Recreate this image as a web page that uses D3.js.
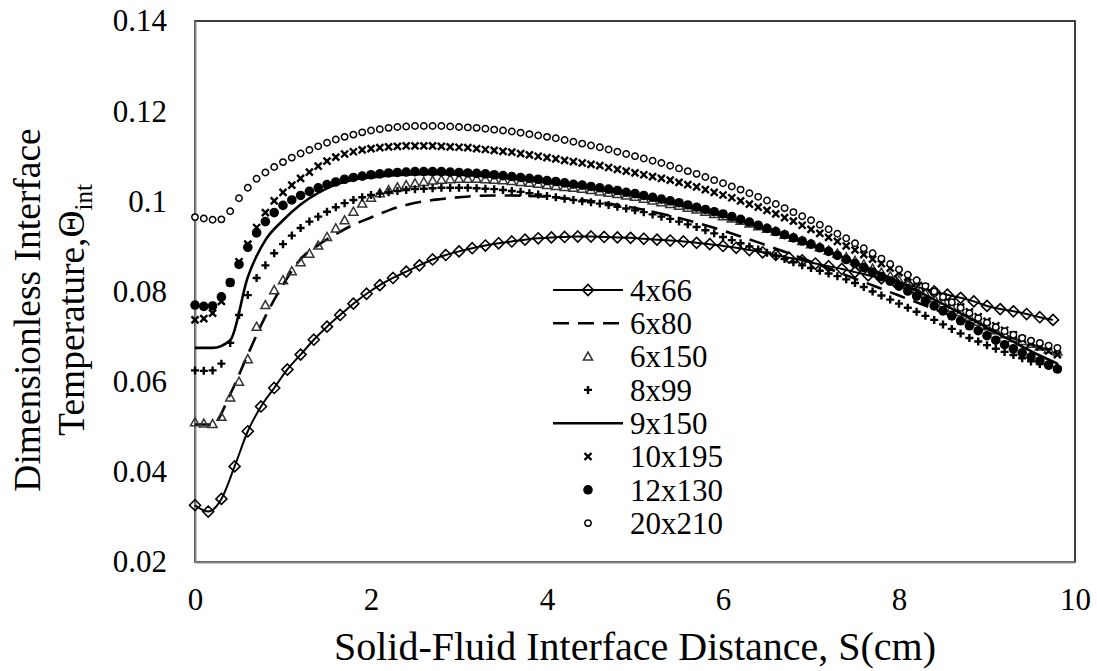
<!DOCTYPE html>
<html>
<head>
<meta charset="utf-8">
<script src="https://cdn.jsdelivr.net/npm/d3@7"></script>
<style>
  body { margin: 0; background: #fff; }
  svg { display: block; }
  svg text { font-family: "Times New Roman", "Liberation Serif", serif; }
</style>
</head>
<body>
<svg id="graph" width="1097" height="671"></svg>
<script>
// x grid (cm) for the dense marker series
const sFine = [
  0,0.1,0.2,0.3,0.4,0.5,0.6,0.7,0.8,0.9,
  1,1.1,1.2,1.3,1.4,1.5,1.6,1.7,1.8,1.9,
  2,2.1,2.2,2.3,2.4,2.5,2.6,2.7,2.8,2.9,
  3,3.1,3.2,3.3,3.4,3.5,3.6,3.7,3.8,3.9,
  4,4.1,4.2,4.3,4.4,4.5,4.6,4.7,4.8,4.9,
  5,5.1,5.2,5.3,5.4,5.5,5.6,5.7,5.8,5.9,
  6,6.1,6.2,6.3,6.4,6.5,6.6,6.7,6.8,6.9,
  7,7.1,7.2,7.3,7.4,7.5,7.6,7.7,7.8,7.9,
  8,8.1,8.2,8.3,8.4,8.5,8.6,8.7,8.8,8.9,
  9,9.1,9.2,9.3,9.4,9.5,9.6,9.7,9.8
];
// x grid for the two line-only series
const sCoarse = [
  0,0.2,0.4,0.6,0.8,1,1.2,1.4,1.6,1.8,
  2,2.2,2.4,2.6,2.8,3,3.2,3.4,3.6,3.8,
  4,4.2,4.4,4.6,4.8,5,5.2,5.4,5.6,5.8,
  6,6.2,6.4,6.6,6.8,7,7.2,7.4,7.6,7.8,
  8,8.2,8.4,8.6,8.8,9,9.2,9.4,9.6,9.8
];
// x grid for the 4x66 mesh
const s4x66 = [
  0,0.15,0.3,0.45,0.6,0.75,0.9,1.05,1.2,1.35,
  1.5,1.65,1.8,1.95,2.1,2.25,2.4,2.55,2.7,2.85,
  3,3.15,3.3,3.45,3.6,3.75,3.9,4.05,4.2,4.35,
  4.5,4.65,4.8,4.95,5.1,5.25,5.4,5.55,5.7,5.85,
  6,6.15,6.3,6.45,6.6,6.75,6.9,7.05,7.2,7.35,
  7.5,7.65,7.8,7.95,8.1,8.25,8.4,8.55,8.7,8.85,
  9,9.15,9.3,9.45,9.6,9.75
];

const v4x66 = [
  0.0326,0.0312,0.0340,0.0412,0.0490,0.0545,0.0586,0.0627,0.0660,0.0693,
  0.0722,0.0748,0.0773,0.0795,0.0814,0.0830,0.0844,0.0858,0.0871,0.0881,
  0.0889,0.0896,0.0902,0.0907,0.0911,0.0915,0.0918,0.0920,0.0921,0.0922,
  0.0922,0.0921,0.0920,0.0919,0.0917,0.0915,0.0913,0.0911,0.0908,0.0905,
  0.0901,0.0897,0.0892,0.0887,0.0881,0.0875,0.0869,0.0862,0.0856,0.0850,
  0.0843,0.0836,0.0829,0.0822,0.0815,0.0808,0.0800,0.0793,0.0786,0.0778,
  0.0768,0.0761,0.0756,0.0750,0.0743,0.0737
];
const v6x80 = [
  0.0505,0.0505,0.0572,0.0660,0.0745,0.0815,0.0872,0.0903,0.0927,0.0948,
  0.0964,0.0980,0.0992,0.1000,0.1005,0.1009,0.1012,0.1013,0.1013,0.1012,
  0.1010,0.1007,0.1003,0.0998,0.0992,0.0985,0.0977,0.0968,0.0958,0.0947,
  0.0935,0.0922,0.0909,0.0895,0.0881,0.0866,0.0851,0.0836,0.0821,0.0806,
  0.0791,0.0776,0.0761,0.0746,0.0731,0.0717,0.0703,0.0689,0.0676,0.0664
];
const v6x150 = [
  0.0510,0.0507,0.0506,0.0522,0.0565,0.0600,0.0650,0.0722,0.0770,0.0803,
  0.0825,0.0845,0.0865,0.0884,0.0902,0.0921,0.0940,0.0958,0.0977,0.0995,
  0.1008,0.1018,0.1025,0.1031,0.1036,0.1040,0.1043,0.1046,0.1048,0.1049,
  0.1050,0.1050,0.1050,0.1049,0.1048,0.1047,0.1045,0.1043,0.1041,0.1039,
  0.1036,0.1034,0.1032,0.1030,0.1028,0.1025,0.1022,0.1019,0.1016,0.1013,
  0.1010,0.1006,0.1002,0.0998,0.0994,0.0990,0.0986,0.0982,0.0977,0.0972,
  0.0967,0.0962,0.0957,0.0951,0.0945,0.0939,0.0933,0.0926,0.0919,0.0912,
  0.0905,0.0898,0.0891,0.0884,0.0876,0.0868,0.0860,0.0851,0.0842,0.0834,
  0.0825,0.0815,0.0805,0.0795,0.0785,0.0774,0.0764,0.0754,0.0744,0.0733,
  0.0723,0.0714,0.0705,0.0697,0.0690,0.0684,0.0678,0.0672,0.0667
];
const v8x99 = [
  0.0625,0.0624,0.0625,0.0640,0.0686,0.0748,0.0792,0.0830,0.0858,0.0885,
  0.0905,0.0924,0.0941,0.0955,0.0966,0.0977,0.0987,0.0996,0.1003,0.1009,
  0.1014,0.1017,0.1020,0.1023,0.1025,0.1027,0.1028,0.1029,0.1030,0.1030,
  0.1030,0.1030,0.1029,0.1028,0.1027,0.1025,0.1023,0.1021,0.1018,0.1015,
  0.1012,0.1009,0.1006,0.1003,0.1000,0.0998,0.0995,0.0992,0.0988,0.0984,
  0.0980,0.0976,0.0971,0.0966,0.0961,0.0955,0.0949,0.0943,0.0936,0.0929,
  0.0921,0.0914,0.0907,0.0900,0.0893,0.0886,0.0879,0.0872,0.0865,0.0858,
  0.0852,0.0846,0.0840,0.0834,0.0827,0.0819,0.0810,0.0800,0.0791,0.0782,
  0.0773,0.0764,0.0755,0.0746,0.0737,0.0727,0.0717,0.0707,0.0697,0.0689,
  0.0681,0.0673,0.0666,0.0659,0.0652,0.0645,0.0639,0.0635,0.0632
];
const v9x150 = [
  0.0675,0.0675,0.0692,0.0832,0.0914,0.0958,0.0993,0.1019,0.1037,0.1048,
  0.1053,0.1057,0.1059,0.1060,0.1060,0.1059,0.1057,0.1054,0.1050,0.1046,
  0.1041,0.1036,0.1031,0.1025,0.1019,0.1012,0.1004,0.0996,0.0987,0.0978,
  0.0968,0.0957,0.0945,0.0932,0.0918,0.0904,0.0889,0.0873,0.0856,0.0839,
  0.0821,0.0802,0.0782,0.0762,0.0741,0.0720,0.0699,0.0678,0.0658,0.0640
];
const v10x195 = [
  0.0737,0.0740,0.0752,0.0778,0.0820,0.0866,0.0905,0.0942,0.0975,0.1001,
  0.1020,0.1036,0.1051,0.1065,0.1078,0.1089,0.1098,0.1105,0.1110,0.1114,
  0.1117,0.1119,0.1121,0.1122,0.1123,0.1123,0.1123,0.1123,0.1122,0.1121,
  0.1120,0.1119,0.1117,0.1115,0.1113,0.1111,0.1109,0.1106,0.1103,0.1100,
  0.1097,0.1094,0.1091,0.1088,0.1085,0.1082,0.1079,0.1075,0.1071,0.1067,
  0.1063,0.1059,0.1055,0.1051,0.1047,0.1042,0.1037,0.1032,0.1026,0.1020,
  0.1014,0.1008,0.1001,0.0994,0.0987,0.0980,0.0972,0.0964,0.0956,0.0947,
  0.0938,0.0929,0.0920,0.0911,0.0901,0.0892,0.0882,0.0872,0.0862,0.0852,
  0.0842,0.0832,0.0821,0.0810,0.0799,0.0788,0.0777,0.0766,0.0755,0.0744,
  0.0734,0.0724,0.0714,0.0704,0.0695,0.0686,0.0677,0.0668,0.0660
];
const v12x130 = [
  0.0770,0.0767,0.0768,0.0788,0.0820,0.0860,0.0898,0.0930,0.0955,0.0975,
  0.0991,0.1003,0.1013,0.1022,0.1030,0.1037,0.1043,0.1049,0.1053,0.1056,
  0.1059,0.1061,0.1063,0.1064,0.1065,0.1066,0.1066,0.1066,0.1066,0.1065,
  0.1064,0.1063,0.1062,0.1061,0.1059,0.1057,0.1055,0.1053,0.1051,0.1049,
  0.1046,0.1044,0.1041,0.1038,0.1036,0.1033,0.1030,0.1027,0.1024,0.1020,
  0.1017,0.1013,0.1009,0.1005,0.1001,0.0997,0.0992,0.0987,0.0982,0.0977,
  0.0972,0.0966,0.0960,0.0954,0.0947,0.0940,0.0933,0.0926,0.0919,0.0912,
  0.0905,0.0897,0.0889,0.0880,0.0871,0.0862,0.0853,0.0843,0.0833,0.0823,
  0.0812,0.0801,0.0790,0.0779,0.0768,0.0757,0.0746,0.0735,0.0724,0.0713,
  0.0702,0.0692,0.0682,0.0673,0.0664,0.0655,0.0646,0.0637,0.0628
];
const v20x210 = [
  0.0965,0.0962,0.0959,0.0960,0.0978,0.1007,0.1030,0.1050,0.1064,0.1076,
  0.1087,0.1097,0.1106,0.1114,0.1122,0.1130,0.1137,0.1143,0.1148,0.1153,
  0.1157,0.1160,0.1163,0.1165,0.1166,0.1167,0.1167,0.1167,0.1167,0.1166,
  0.1165,0.1164,0.1163,0.1161,0.1159,0.1157,0.1155,0.1152,0.1149,0.1146,
  0.1143,0.1140,0.1136,0.1132,0.1128,0.1124,0.1120,0.1115,0.1110,0.1105,
  0.1100,0.1095,0.1090,0.1085,0.1079,0.1073,0.1067,0.1061,0.1054,0.1047,
  0.1040,0.1033,0.1026,0.1018,0.1010,0.1002,0.0994,0.0985,0.0976,0.0967,
  0.0958,0.0948,0.0938,0.0928,0.0918,0.0907,0.0896,0.0885,0.0873,0.0861,
  0.0849,0.0837,0.0825,0.0812,0.0800,0.0788,0.0776,0.0764,0.0752,0.0741,
  0.0731,0.0721,0.0712,0.0704,0.0697,0.0691,0.0686,0.0680,0.0675
];

const seriesNames = ["4x66", "6x80", "6x150", "8x99", "9x150", "10x195", "12x130", "20x210"];
const xTicks = [0, 2, 4, 6, 8, 10];
const xTickLabels = ["0", "2", "4", "6", "8", "10"];
const yTicks = [0.02, 0.04, 0.06, 0.08, 0.1, 0.12, 0.14];
const yTickLabels = ["0.02", "0.04", "0.06", "0.08", "0.1", "0.12", "0.14"];

const serif = "'Times New Roman', 'Liberation Serif', serif";

// marker shapes, drawn round (0,0)
const shapes = {
    diamond: "M0,-5.5L5.5,0L0,5.5L-5.5,0Z",
    triangle: "M0,-4.5L4.5,3.5L-4.5,3.5Z",
    plus: "M-4,0H4M0,-4V4",
    cross: "M-3.5,-3.5L3.5,3.5M-3.5,3.5L3.5,-3.5",
};

let zip = (xs, ys) => ys.slice(0, xs.length).map((v, i) => ({ s: xs[i], v: v }));

let series = [
    { name: seriesNames[0], data: zip(s4x66, v4x66), line: "solid", marker: "diamond" },
    { name: seriesNames[1], data: zip(sCoarse, v6x80), line: "dash" },
    { name: seriesNames[2], data: zip(sFine, v6x150), marker: "triangle" },
    { name: seriesNames[3], data: zip(sFine, v8x99), marker: "plus" },
    { name: seriesNames[4], data: zip(sCoarse, v9x150), line: "solid" },
    { name: seriesNames[5], data: zip(sFine, v10x195), marker: "cross" },
    { name: seriesNames[6], data: zip(sFine, v12x130), marker: "dot" },
    { name: seriesNames[7], data: zip(sFine, v20x210), marker: "ring" },
];

let svg = d3.select("#graph");

let x0 = 195, x1 = 1075, yTop = 21, yBot = 562;

let scX = d3.scaleLinear().domain([0, 10]).range([x0, x1]);
let scY = d3.scaleLinear().domain([0.02, 0.14]).range([yBot, yTop]);

// plot frame
svg.append("rect")
    .attr("x", x0).attr("y", yTop)
    .attr("width", x1 - x0).attr("height", yBot - yTop)
    .attr("fill", "none").attr("stroke", "#000").attr("stroke-width", 1.5);

svg.append("g")
    .attr("transform", "translate(" + x0 + ",0)")
    .call(d3.axisLeft(scY).tickValues(yTicks).tickSize(0).tickPadding(28)
        .tickFormat((d, i) => yTickLabels[i]));

svg.append("g")
    .attr("transform", "translate(0," + yBot + ")")
    .call(d3.axisBottom(scX).tickValues(xTicks).tickSize(0).tickPadding(26)
        .tickFormat((d, i) => xTickLabels[i]));

svg.selectAll(".domain").attr("stroke", "#868686").attr("stroke-width", 2);
svg.selectAll(".tick text")
    .style("font-family", serif)
    .attr("font-size", 31)
    .attr("fill", "#000");

let drawMarker = function (sel, kind) {
    if (kind === "dot") {
        sel.append("circle").attr("r", 4.8).attr("fill", "#000");
    } else if (kind === "ring") {
        sel.append("circle").attr("r", 3.2).attr("fill", "#fff")
            .attr("stroke", "#000").attr("stroke-width", 1.5);
    } else if (kind === "triangle") {
        sel.append("path").attr("d", shapes.triangle).attr("fill", "none")
            .attr("stroke", "#333").attr("stroke-width", 1.5);
    } else if (kind === "diamond") {
        sel.append("path").attr("d", shapes.diamond).attr("fill", "none")
            .attr("stroke", "#000").attr("stroke-width", 1.6);
    } else {
        sel.append("path").attr("d", shapes[kind]).attr("fill", "none")
            .attr("stroke", "#000").attr("stroke-width", 2.4);
    }
};

let lnMkr = d3.line()
    .curve(d3.curveMonotoneX)
    .x((d) => scX(d.s))
    .y((d) => scY(d.v));

let plot = svg.append("g");

series.forEach((sr) => {
    let g = plot.append("g");
    if (sr.line) {
        g.append("path")
            .attr("d", lnMkr(sr.data))
            .attr("fill", "none")
            .attr("stroke", "#000")
            .attr("stroke-width", sr.marker ? 2 : 2.6)
            .attr("stroke-dasharray", sr.line === "dash" ? "16,9" : null);
    }
    if (sr.marker) {
        g.selectAll("g.m")
            .data(sr.data)
            .enter()
            .append("g")
            .attr("class", "m")
            .attr("transform", (d) => "translate(" + scX(d.s) + "," + scY(d.v) + ")")
            .call(drawMarker, sr.marker);
    }
});

// legend
let lg = svg.append("g").attr("transform", "translate(553,290)");
let rowH = 33.3;
series.forEach((sr, i) => {
    let row = lg.append("g").attr("transform", "translate(0," + i * rowH + ")");
    if (sr.line) {
        row.append("line")
            .attr("x1", 0).attr("x2", 70).attr("y1", 0).attr("y2", 0)
            .attr("stroke", "#000")
            .attr("stroke-width", sr.marker ? 2 : 2.6)
            .attr("stroke-dasharray", sr.line === "dash" ? "16,9" : null);
    }
    if (sr.marker) {
        row.append("g").attr("transform", "translate(35,0)").call(drawMarker, sr.marker);
    }
    row.append("text")
        .attr("x", 77).attr("y", 0).attr("dy", "0.35em")
        .style("font-family", serif)
        .attr("font-size", 31)
        .text(sr.name);
});

// axis titles
svg.append("text")
    .attr("x", (x0 + x1) / 2).attr("y", 660)
    .attr("text-anchor", "middle")
    .style("font-family", serif)
    .attr("font-size", 40)
    .text("Solid-Fluid Interface Distance, S(cm)");

let yt = svg.append("g").attr("transform", "translate(0,310) rotate(-90)");
yt.append("text")
    .attr("x", 0).attr("y", 40)
    .attr("text-anchor", "middle")
    .style("font-family", serif)
    .attr("font-size", 37.5)
    .text("Dimensionless Interface");
let t2 = yt.append("text")
    .attr("x", 0).attr("y", 84)
    .attr("text-anchor", "middle")
    .style("font-family", serif)
    .attr("font-size", 37.5);
t2.append("tspan").text("Temperature,Θ");
t2.append("tspan").attr("dy", 8).attr("font-size", 25).text("int");
</script>
</body>
</html>
